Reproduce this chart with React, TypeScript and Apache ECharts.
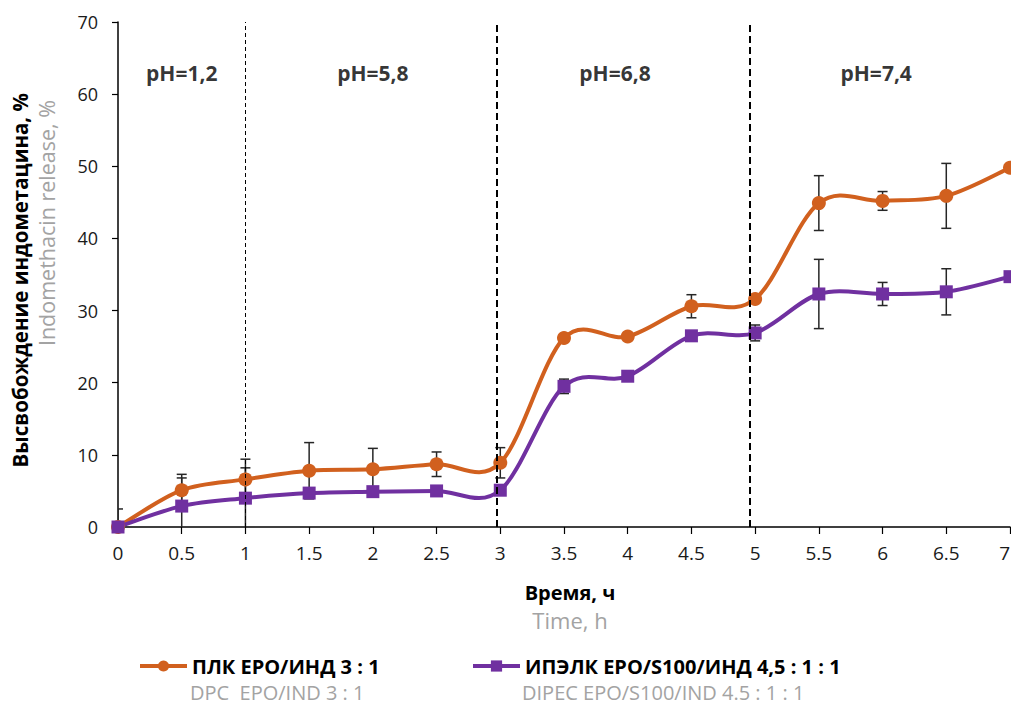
import React, { useEffect, useRef } from "react";
import * as echarts from "echarts";

const hours = [0, 0.5, 1, 1.5, 2, 2.5, 3, 3.5, 4, 4.5, 5, 5.5, 6, 6.5, 7];
const dpcRelease = [0, 5.1, 6.6, 7.8, 8.0, 8.7, 8.9, 26.2, 26.4, 30.6, 31.6, 44.9, 45.2, 45.9, 49.8];
const dpcError = [2.5, 2.2, 2.8, 3.9, 2.9, 1.7, 2.1, 0.4, 0.4, 1.6, 0.4, 3.8, 1.3, 4.5, 0];
const dipecRelease = [0, 2.9, 4.0, 4.7, 4.9, 5.0, 5.1, 19.5, 20.9, 26.5, 26.9, 32.3, 32.3, 32.6, 34.7];
const dipecError = [0, 3.9, 4.2, 0.6, 0.3, 0.3, 0.4, 1.0, 0.6, 0.3, 1.1, 4.8, 1.6, 3.2, 0];

const phBoundaries = [1, 2.97, 4.96];
const phLabels = ["pH=1,2", "pH=5,8", "pH=6,8", "pH=7,4"];
const phLabelX = [0.5, 2.0, 3.9, 5.95];
const phLabelY = 63;

const dpcName = "ПЛК ЕРО/ИНД 3 : 1";
const dipecName = "ИПЭЛК ЕРО/S100/ИНД 4,5 : 1 : 1";
const dpcNameEn = "DPC  EPO/IND 3 : 1";
const dipecNameEn = "DIPEC EPO/S100/IND 4.5 : 1 : 1";

const yTitle = "Высвобождение индометацина, %";
const yTitleEn = "Indomethacin release, %";
const xTitle = "Время, ч";
const xTitleEn = "Time, h";

const ORANGE = "#D1601E";
const PURPLE = "#7030A0";
const GRAY = "#A3A3A3";
const FONT = "'Open Sans', 'Noto Sans', sans-serif";

function errorData(values: number[], errs: number[]) {
  return hours
    .map((h, i) => [h, values[i] - errs[i], values[i] + errs[i], errs[i]])
    .filter((d) => d[3] > 0);
}

function renderError(params: any, api: any) {
  const x = api.value(0);
  const lo = api.value(1);
  const hi = api.value(2);
  const top = api.coord([x, hi]);
  const bot = api.coord([x, lo]);
  const w = 5;
  const style = { stroke: "#262626", lineWidth: 1.5 };
  return {
    type: "group",
    children: [
      { type: "line", shape: { x1: top[0], y1: top[1], x2: bot[0], y2: bot[1] }, style },
      { type: "line", shape: { x1: top[0] - w, y1: top[1], x2: top[0] + w, y2: top[1] }, style },
      { type: "line", shape: { x1: bot[0] - w, y1: bot[1], x2: bot[0] + w, y2: bot[1] }, style },
    ],
  };
}

// Smooth curve (Catmull-Rom, like a spreadsheet's "smoothed line") through the data points
function curveRenderer(values: number[], color: string) {
  return (params: any, api: any) => {
    const pts = hours.map((h, i) => api.coord([h, values[i]]));
    const n = pts.length;
    let d = `M${pts[0][0]},${pts[0][1]}`;
    for (let i = 0; i < n - 1; i++) {
      const p0 = pts[Math.max(i - 1, 0)];
      const p1 = pts[i];
      const p2 = pts[i + 1];
      const p3 = pts[Math.min(i + 2, n - 1)];
      const c1x = p1[0] + (p2[0] - p0[0]) / 6;
      const c1y = p1[1] + (p2[1] - p0[1]) / 6;
      const c2x = p2[0] - (p3[0] - p1[0]) / 6;
      const c2y = p2[1] - (p3[1] - p1[1]) / 6;
      d += ` C${c1x},${c1y} ${c2x},${c2y} ${p2[0]},${p2[1]}`;
    }
    return {
      type: "path",
      shape: { pathData: d },
      style: { stroke: color, lineWidth: 4, fill: "none", lineJoin: "round" },
    };
  };
}

export default function App() {
  const ref = useRef<HTMLDivElement>(null);
  useEffect(() => {
    if (!ref.current) return;
    const chart = echarts.init(ref.current, undefined, { renderer: "svg" });
    const legendText = {
      fontFamily: FONT,
      fontSize: 20,
      fontWeight: "bold" as const,
      color: "#000",
    };
    const grayText = (text: string, x: number, y: number, size: number, align: string) => ({
      type: "text",
      x,
      y,
      style: { text, fontFamily: FONT, fontSize: size, fill: GRAY, align, verticalAlign: "middle" },
    });
    chart.setOption({
      animation: false,
      backgroundColor: "#fff",
      grid: {
        left: 118,
        width: 892,
        top: 22,
        bottom: 180,
        containLabel: false,
        outerBoundsMode: "none",
      },
      xAxis: {
        type: "value",
        min: 0,
        max: 7,
        interval: 0.5,
        axisLine: { show: true, lineStyle: { color: "#000", width: 1.5 } },
        axisTick: { show: true, length: 7, lineStyle: { color: "#000", width: 1.2 } },
        axisLabel: {
          fontFamily: FONT,
          fontSize: 19,
          color: "#1a1a1a",
          margin: 16,
          alignMaxLabel: "right",
        },
        splitLine: { show: false },
      },
      yAxis: {
        type: "value",
        min: 0,
        max: 70,
        interval: 10,
        axisLine: { show: true, lineStyle: { color: "#000", width: 1.5 } },
        axisTick: { show: true, length: 6, lineStyle: { color: "#000", width: 1.2 } },
        axisLabel: { fontFamily: FONT, fontSize: 18, color: "#1a1a1a", margin: 20 },
        splitLine: { show: false },
      },
      legend: [
        {
          data: [dpcName],
          left: 133,
          top: 651,
          itemWidth: 47,
          itemHeight: 14,
          lineStyle: { color: ORANGE, width: 4, opacity: 1 },
          textStyle: legendText,
        },
        {
          data: [dipecName],
          left: 466,
          top: 651,
          itemWidth: 47,
          itemHeight: 14,
          lineStyle: { color: PURPLE, width: 4, opacity: 1 },
          textStyle: legendText,
        },
      ],
      graphic: [
        {
          type: "text",
          x: 20,
          y: 93,
          rotation: Math.PI / 2,
          style: {
            text: yTitle,
            fontFamily: FONT,
            fontSize: 20.5,
            fontWeight: "bold",
            fill: "#000",
            align: "right",
            verticalAlign: "middle",
          },
        },
        {
          type: "text",
          x: 46,
          y: 100,
          rotation: Math.PI / 2,
          style: {
            text: yTitleEn,
            fontFamily: FONT,
            fontSize: 21.5,
            fill: GRAY,
            align: "right",
            verticalAlign: "middle",
          },
        },
        {
          type: "text",
          x: 570,
          y: 592,
          style: {
            text: xTitle,
            fontFamily: FONT,
            fontSize: 20,
            fontWeight: "bold",
            fill: "#000",
            align: "center",
            verticalAlign: "middle",
          },
        },
        grayText(xTitleEn, 570, 620, 22, "center"),
        grayText(dpcNameEn, 190, 692, 20, "left"),
        grayText(dipecNameEn, 522, 692, 20, "left"),
      ],
      series: [
        {
          type: "custom",
          name: "err-dpc",
          renderItem: renderError,
          data: errorData(dpcRelease, dpcError),
          encode: { x: 0, y: [1, 2] },
          clip: true,
          z: 1,
          silent: true,
        },
        {
          type: "custom",
          name: "err-dipec",
          renderItem: renderError,
          data: errorData(dipecRelease, dipecError),
          encode: { x: 0, y: [1, 2] },
          clip: true,
          z: 1,
          silent: true,
        },
        {
          type: "custom",
          name: "curve-dpc",
          renderItem: curveRenderer(dpcRelease, ORANGE),
          data: [[hours[0], dpcRelease[0]]],
          encode: { x: 0, y: 1 },
          clip: true,
          z: 2,
          silent: true,
        },
        {
          type: "custom",
          name: "curve-dipec",
          renderItem: curveRenderer(dipecRelease, PURPLE),
          data: [[hours[0], dipecRelease[0]]],
          encode: { x: 0, y: 1 },
          clip: true,
          z: 2,
          silent: true,
        },
        {
          type: "line",
          name: dpcName,
          data: hours.map((h, i) => [h, dpcRelease[i]]),
          symbol: "circle",
          symbolSize: 14,
          lineStyle: { color: ORANGE, width: 0, opacity: 0 },
          itemStyle: { color: ORANGE },
          z: 3,
          markLine: {
            silent: true,
            symbol: ["none", "none"],
            label: { show: false },
            data: phBoundaries.map((v, i) => ({
              xAxis: v,
              lineStyle: {
                color: "#000",
                width: i === 0 ? 1 : 2,
                type: i === 0 ? [4, 3] : [7, 4],
              },
            })),
          },
        },
        {
          type: "line",
          name: dipecName,
          data: hours.map((h, i) => [h, dipecRelease[i]]),
          symbol: "rect",
          symbolSize: 13,
          lineStyle: { color: PURPLE, width: 0, opacity: 0 },
          itemStyle: { color: PURPLE },
          z: 4,
        },
        {
          type: "scatter",
          name: "ph",
          data: phLabelX.map((x, i) => [x, phLabelY, phLabels[i]]),
          symbolSize: 1,
          itemStyle: { color: "rgba(0,0,0,0)" },
          silent: true,
          label: {
            show: true,
            position: "inside",
            formatter: (p: any) => p.value[2],
            fontFamily: FONT,
            fontSize: 21,
            fontWeight: "bold",
            color: "#000",
          },
        },
      ],
    });
    return () => chart.dispose();
  }, []);
  return <div ref={ref} style={{ width: 1011, height: 707, position: "absolute", left: 0, top: 0 }} />;
}
